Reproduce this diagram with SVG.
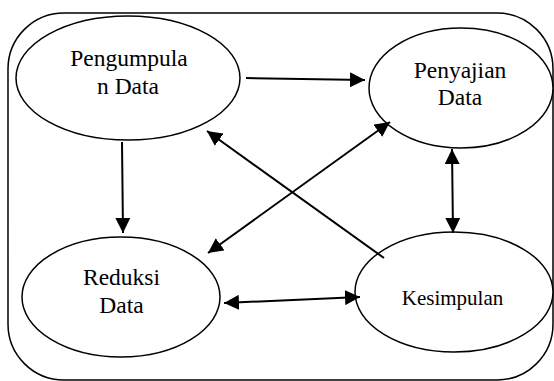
<svg xmlns="http://www.w3.org/2000/svg" width="554" height="381" viewBox="0 0 554 381">
<style>
.node{fill:#fff;stroke:#000;stroke-width:1.5}
text{font-family:'Liberation Serif','Times New Roman',serif;font-size:23.5px;fill:#000;text-anchor:middle}
text.small{font-size:21px}
.edge{stroke:#000;stroke-width:2;fill:none}
</style>
<defs>
<marker id="ah" markerUnits="userSpaceOnUse" markerWidth="16" markerHeight="15" refX="15" refY="7.5" orient="auto-start-reverse" viewBox="0 0 16 15">
<path d="M0,0 L15,7.5 L0,15 z" fill="#000"/>
</marker>
</defs>
<rect x="8" y="13" width="545" height="367" rx="56" ry="56" fill="#fff" stroke="#000" stroke-width="1.5"/>
<g id="pengumpulan">
<ellipse class="node" cx="128" cy="78" rx="112" ry="62"/>
<text x="129" y="66">Pengumpula</text>
<text x="128" y="94">n Data</text>
</g>
<g id="penyajian">
<ellipse class="node" cx="461" cy="88" rx="92" ry="60"/>
<text x="460" y="78">Penyajian</text>
<text x="460" y="105">Data</text>
</g>
<g id="reduksi">
<ellipse class="node" cx="121" cy="297" rx="99" ry="60"/>
<text x="121.5" y="285">Reduksi</text>
<text x="121.5" y="313">Data</text>
</g>
<g id="kesimpulan">
<ellipse class="node" cx="454" cy="292" rx="99" ry="60"/>
<text class="small" x="452.5" y="305">Kesimpulan</text>
</g>
<g id="connectors">
<line class="edge" x1="246" y1="78" x2="365" y2="80" marker-end="url(#ah)"/>
<line class="edge" x1="122" y1="142" x2="123" y2="233" marker-end="url(#ah)"/>
<line class="edge" x1="390" y1="122" x2="208" y2="253" marker-start="url(#ah)" marker-end="url(#ah)"/>
<line class="edge" x1="384" y1="258" x2="207" y2="131" marker-end="url(#ah)"/>
<line class="edge" x1="453" y1="233" x2="452" y2="149" marker-start="url(#ah)" marker-end="url(#ah)"/>
<line class="edge" x1="224" y1="303" x2="360" y2="297" marker-start="url(#ah)" marker-end="url(#ah)"/>
</g>
</svg>
